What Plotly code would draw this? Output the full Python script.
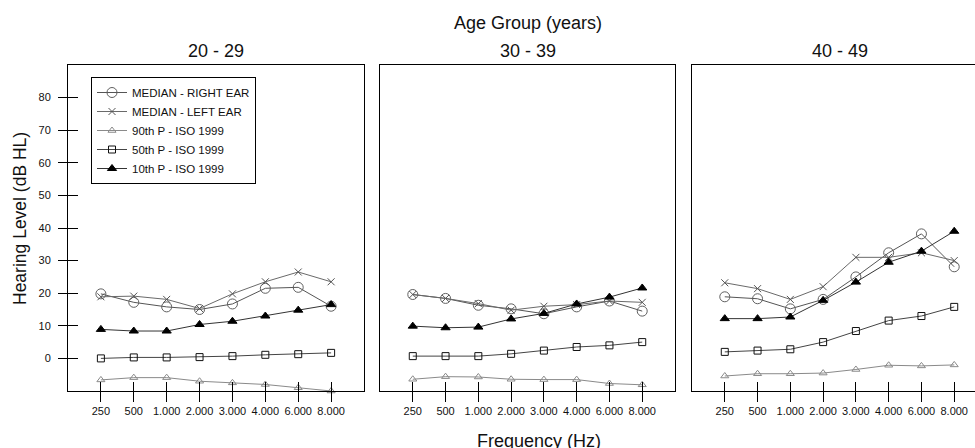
import plotly.graph_objects as go

FREQ_LABELS = ["250", "500", "1.000", "2.000", "3.000", "4.000", "6.000", "8.000"]
AGE_GROUPS = ["20 - 29", "30 - 39", "40 - 49"]
SERIES_NAMES = ["MEDIAN - RIGHT EAR", "MEDIAN - LEFT EAR", "90th P - ISO 1999",
                "50th P - ISO 1999", "10th P - ISO 1999"]
Y_TICKS = [0, 10, 20, 30, 40, 50, 60, 70, 80]

P1_RIGHT = [19.8, 17.2, 15.8, 15.0, 16.7, 21.5, 21.8, 16.0]
P1_LEFT = [18.9, 19.1, 18.1, 15.3, 19.8, 23.5, 26.5, 23.5]
P1_P90 = [-6.6, -5.9, -5.9, -7.0, -7.5, -8.0, -9.0, -10.0]
P1_P50 = [0.0, 0.3, 0.3, 0.4, 0.7, 1.1, 1.3, 1.7]
P1_P10 = [8.9, 8.4, 8.4, 10.4, 11.4, 13.0, 14.8, 16.5]

P2_RIGHT = [19.6, 18.4, 16.3, 15.2, 13.7, 15.8, 17.6, 14.5]
P2_LEFT = [19.6, 18.4, 16.8, 14.8, 16.0, 16.5, 17.6, 17.2]
P2_P90 = [-6.4, -5.6, -5.7, -6.4, -6.5, -6.5, -7.7, -8.1]
P2_P50 = [0.7, 0.7, 0.7, 1.4, 2.4, 3.5, 4.0, 5.0]
P2_P10 = [9.9, 9.4, 9.6, 12.1, 13.8, 16.7, 18.8, 21.6]

P3_RIGHT = [18.9, 18.3, 15.2, 18.1, 25.0, 32.4, 38.2, 28.1]
P3_LEFT = [23.2, 21.4, 18.1, 22.0, 31.0, 31.0, 32.4, 30.0]
P3_P90 = [-5.4, -4.7, -4.7, -4.5, -3.4, -2.1, -2.3, -2.0]
P3_P50 = [2.0, 2.4, 2.8, 5.0, 8.4, 11.6, 13.0, 15.8]
P3_P10 = [12.2, 12.2, 12.7, 17.8, 23.4, 29.5, 32.9, 39.0]

PANELS = [
    [P1_RIGHT, P1_LEFT, P1_P90, P1_P50, P1_P10],
    [P2_RIGHT, P2_LEFT, P2_P90, P2_P50, P2_P10],
    [P3_RIGHT, P3_LEFT, P3_P90, P3_P50, P3_P10],
]

FONT = "Liberation Sans, Arial, sans-serif"
# the third panel runs past the 975 px window edge, as in the reference
W, H = 990, 448

STYLES = [
    dict(symbol="circle-open", size=10, mcolor="#606060", lcolor="#555555"),
    dict(symbol="x-thin-open", size=7, mcolor="#555555", lcolor="#6a6a6a"),
    dict(symbol="triangle-up-open", size=7, mcolor="#8a8a8a", lcolor="#8a8a8a"),
    dict(symbol="square-open", size=7, mcolor="#111111", lcolor="#444444"),
    dict(symbol="triangle-up", size=8, mcolor="#000000", lcolor="#333333"),
]

fig = go.Figure()

px_dom = [(68, 364), (380, 675), (692, 987)]
x_ranges = [[-1, 8], [-1, 8], [-1, 8]]
y_dom = [1 - 391 / H, 1 - 65 / H]

for p, series in enumerate(PANELS):
    xa = "x" if p == 0 else f"x{p + 1}"
    ya = "y" if p == 0 else f"y{p + 1}"
    for s, vals in enumerate(series):
        st = STYLES[s]
        # the 90th-percentile trace sits on the overlay x axis (same scale) so
        # that axis, which draws the inner half of the tick marks, is rendered
        txa = f"x{p + 4}" if s == 2 else xa
        tya = "y4" if (p == 0 and s == 3) else ya
        fig.add_trace(go.Scatter(
            x=FREQ_LABELS, y=vals, mode="lines+markers",
            name=SERIES_NAMES[s], legendgroup=SERIES_NAMES[s], showlegend=(p == 0),
            line=dict(color=st["lcolor"], width=1),
            marker=dict(symbol=st["symbol"], size=st["size"], color=st["mcolor"],
                        line=dict(color=st["mcolor"], width=1)),
            cliponaxis=False, xaxis=txa, yaxis=tya,
        ))

layout = dict(
    width=W, height=H, margin=dict(l=0, r=0, t=0, b=0),
    paper_bgcolor="white", plot_bgcolor="white",
    font=dict(family=FONT, color="#111111", size=11),
    showlegend=True,
    legend=dict(x=91 / W, y=1 - 77 / H, xanchor="left", yanchor="top",
                bordercolor="#000000", borderwidth=1, bgcolor="white",
                font=dict(family=FONT, size=11.5, color="#111111"),
                tracegroupgap=0),
)

for p in range(3):
    key = "xaxis" if p == 0 else f"xaxis{p + 1}"
    ykey = "yaxis" if p == 0 else f"yaxis{p + 1}"
    ya = "y" if p == 0 else f"y{p + 1}"
    xa = "x" if p == 0 else f"x{p + 1}"
    dom = [px_dom[p][0] / W, px_dom[p][1] / W]
    layout[key] = dict(
        domain=dom, anchor=ya, type="category", categoryorder="array",
        categoryarray=FREQ_LABELS, range=x_ranges[p],
        showline=True, mirror=True, linecolor="#000000", linewidth=1,
        ticks="outside", ticklen=10, tickcolor="#000000", tickwidth=1,
        tickfont=dict(family=FONT, size=11, color="#111111"),
        showgrid=False, zeroline=False, fixedrange=True,
    )
    layout[f"xaxis{p + 4}"] = dict(
        overlaying=xa, anchor=ya, type="category", categoryorder="array",
        categoryarray=FREQ_LABELS, range=x_ranges[p],
        showline=False, ticks="inside", ticklen=9, tickcolor="#000000", tickwidth=1,
        showticklabels=False, showgrid=False, zeroline=False, side="bottom",
        fixedrange=True,
    )
    layout[ykey] = dict(
        domain=y_dom, anchor=xa, range=[-10, 90],
        showline=True, mirror=True, linecolor="#000000", linewidth=1,
        ticks="outside" if p == 0 else "", ticklen=9, tickcolor="#000000", tickwidth=1,
        tickvals=Y_TICKS, showticklabels=(p == 0), ticklabelstandoff=5,
        tickfont=dict(family=FONT, size=11, color="#111111"),
        showgrid=False, zeroline=False, fixedrange=True,
    )

layout["yaxis4"] = dict(
    overlaying="y", anchor="x", range=[-10, 90], side="left",
    showline=False, ticks="inside", ticklen=10, tickcolor="#000000", tickwidth=1,
    tickvals=Y_TICKS, showticklabels=False, showgrid=False, zeroline=False,
    fixedrange=True,
)

fig.update_layout(**layout)

ann = []
ann.append(dict(text="Age Group (years)", x=528 / W, y=1 - 23 / H, xref="paper", yref="paper",
                showarrow=False, font=dict(family=FONT, size=18, color="#111111"),
                xanchor="center", yanchor="middle"))
centers = [216, 527.5, 840]
for p in range(3):
    ann.append(dict(text=AGE_GROUPS[p], x=centers[p] / W, y=1 - 51.5 / H, xref="paper",
                    yref="paper", showarrow=False,
                    font=dict(family=FONT, size=18, color="#111111"),
                    xanchor="center", yanchor="middle"))
ann.append(dict(text="Frequency (Hz)", x=539 / W, y=1 - 441 / H, xref="paper", yref="paper",
                showarrow=False, font=dict(family=FONT, size=18, color="#111111"),
                xanchor="center", yanchor="middle"))
ann.append(dict(text="Hearing Level (dB HL)", x=20 / W, y=1 - 219 / H, xref="paper",
                yref="paper", showarrow=False, textangle=-90,
                font=dict(family=FONT, size=17.5, color="#111111"),
                xanchor="center", yanchor="middle"))
fig.update_layout(annotations=ann)

fig.write_html(
    "out.html",
    config={"displayModeBar": False},
    post_script=(
        "document.documentElement.style.overflow='hidden';"
        "document.body.style.overflow='hidden';"
        "document.body.style.margin='0';document.body.style.padding='0';"
    ),
)
